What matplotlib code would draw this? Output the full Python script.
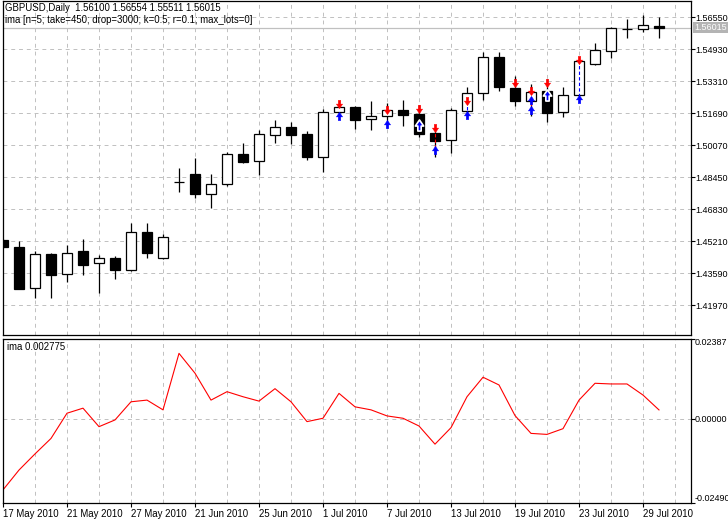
import numpy as np
import matplotlib
matplotlib.use("Agg")
import matplotlib.pyplot as plt
from matplotlib.path import Path

plt.rcParams['font.family'] = ['Liberation Sans', 'DejaVu Sans']
plt.rcParams['font.size'] = 7

# GBPUSD daily bars
opens = [1.45262, 1.44892, 1.42816, 1.44538, 1.43525, 1.44705, 1.44082, 1.44335, 1.43758, 1.45685,
         1.44335, 1.48220, 1.48603, 1.47606, 1.48081, 1.49615, 1.49246, 1.50562, 1.50967, 1.50628,
         1.49438, 1.51726, 1.52010, 1.51372, 1.51539, 1.51843, 1.51640, 1.50663, 1.50309, 1.51807,
         1.52688, 1.54511, 1.52941, 1.52314, 1.52805, 1.51716, 1.52577, 1.54156, 1.54844, 1.55950,
         1.55928, 1.56100]
highs = [1.45312, 1.45211, 1.44705, 1.44603, 1.45008, 1.45312, 1.44502, 1.44451, 1.46137, 1.46137,
         1.45548, 1.48907, 1.49398, 1.48603, 1.49731, 1.50172, 1.50830, 1.51337, 1.51235, 1.50780,
         1.51893, 1.52146, 1.52045, 1.52298, 1.52197, 1.52349, 1.52096, 1.50795, 1.51929, 1.53022,
         1.54764, 1.54779, 1.53564, 1.53159, 1.53397, 1.53007, 1.54425, 1.55249, 1.56060, 1.56450,
         1.56652, 1.56554]
lows = [1.44857, 1.42756, 1.42340, 1.42340, 1.43150, 1.43505, 1.42594, 1.43302, 1.43707, 1.44366,
        1.44300, 1.47707, 1.47403, 1.46897, 1.48010, 1.49175, 1.48567, 1.50172, 1.50121, 1.49336,
        1.48719, 1.51640, 1.50881, 1.50845, 1.50916, 1.51048, 1.50491, 1.49479, 1.49651, 1.51504,
        1.52349, 1.52820, 1.52060, 1.51539, 1.51250, 1.51504, 1.52526, 1.54120, 1.54459, 1.55503,
        1.55806, 1.55511]
closes = [1.44907, 1.42796, 1.44538, 1.43505, 1.44588, 1.44011, 1.44335, 1.43758, 1.45685, 1.44588,
          1.45432, 1.48205, 1.47590, 1.48081, 1.49615, 1.49225, 1.50628, 1.50967, 1.50593, 1.49438,
          1.51726, 1.51979, 1.51337, 1.51539, 1.51843, 1.51590, 1.50643, 1.50289, 1.51828, 1.52688,
          1.54511, 1.53022, 1.52314, 1.52770, 1.51706, 1.52587, 1.54324, 1.54880, 1.55979, 1.55930,
          1.56146, 1.56015]

# ima indicator values
ima = [-0.0210, -0.0151, -0.0103, -0.0057, 0.0018, 0.0033, -0.0022, -0.0002, 0.0052, 0.0057,
       0.0028, 0.0196, 0.0137, 0.0057, 0.0082, 0.0067, 0.0054, 0.0091, 0.0052, -0.0007,
       0.0003, 0.0077, 0.0037, 0.0028, 0.0010, 0.0003, -0.0020, -0.0074, -0.0025, 0.0067,
       0.0125, 0.0102, 0.0011, -0.0042, -0.0045, -0.0028, 0.0057, 0.0107, 0.0105, 0.0105,
       0.0072, 0.002775]

# trade markers (bar index, price)
sell_bars = [21, 24, 26, 27, 29, 32, 33, 34, 36]
sell_prices = [1.52146, 1.51843, 1.51894, 1.50932, 1.52273, 1.53185, 1.52780, 1.53185, 1.54349]
buy_bars = [21, 24, 27, 29, 33, 33, 36]
buy_prices = [1.51539, 1.51134, 1.49792, 1.51590, 1.52324, 1.51843, 1.52400]
close_bars = [26, 34]
close_prices = [1.51083, 1.52602]
# dashed trade lines: bar, price from, price to, colour
trade_lines = [(24, 1.51843, 1.51590, 'red'), (26, 1.51894, 1.51640, 'red'),
               (27, 1.50932, 1.49792, 'red'), (29, 1.52273, 1.51590, 'blue'),
               (33, 1.52780, 1.51843, 'red'), (36, 1.54349, 1.52400, 'blue')]

date_ticks = [0, 4, 8, 12, 16, 20, 24, 28, 32, 36, 40]
date_labels = ['17 May 2010', '21 May 2010', '27 May 2010', '21 Jun 2010', '25 Jun 2010',
               '1 Jul 2010', '7 Jul 2010', '13 Jul 2010', '19 Jul 2010', '23 Jul 2010',
               '29 Jul 2010']
price_ticks = [1.56550, 1.54930, 1.53310, 1.51690, 1.50070, 1.48450, 1.46830, 1.45210,
               1.43590, 1.41970]
ima_ticks = [0.02387, 0.0, -0.0249]
ima_tick_labels = ['0.02387', '0.00000', '-0.02490']

W, H = 728, 519
fig = plt.figure(figsize=(W / 100, H / 100), dpi=100)
fig.patch.set_facecolor('white')


def px_axes(x0, y0, x1, y1):
    return fig.add_axes([x0 / W, 1 - y1 / H, (x1 - x0) / W, (y1 - y0) / H])


ax1 = px_axes(3, 1, 691, 335)
ax2 = px_axes(3, 339, 691, 503)

grid_kw = dict(color='#c0c0c0', linestyle=(0, (4, 4)), linewidth=0.7)
x = np.arange(len(opens))
ylab = 6.5

for ax in (ax1, ax2):
    ax.set_xlim(0, 43)
    for s in ax.spines.values():
        s.set_linewidth(0.9)
        s.set_color('black')
    ax.yaxis.tick_right()
    ax.tick_params(axis='y', direction='out', length=2.6, width=0.8, pad=0.8, labelsize=ylab)
    ax.set_xticks(np.arange(0, 44, 2), minor=True)
    ax.grid(True, which='both', axis='x', **grid_kw)
    ax.set_axisbelow(True)

# --- main price panel ---
ax1.set_ylim(1.40452, 1.57360)
ax1.set_yticks(price_ticks, ['%.5f' % p for p in price_ticks])
ax1.grid(True, which='major', axis='y', **grid_kw)
ax1.set_xticks([])
ax1.tick_params(axis='x', which='both', length=0, labelbottom=False)

# bid line
ax1.axhline(closes[-1], color='#c0c0c0', lw=0.9, zorder=1)

o = np.array(opens)
c = np.array(closes)
ax1.vlines(x, lows, highs, color='black', lw=0.9, zorder=2)
bull = c >= o
body_lo = np.minimum(o, c)
body_h = np.maximum(np.abs(c - o), 0.00008)
ax1.bar(x, body_h, bottom=body_lo, width=0.68, color=np.where(bull, 'white', 'black'),
        edgecolor='black', linewidth=0.9, zorder=3)

for b, p0, p1, col in trade_lines:
    ax1.plot([b, b], [p0, p1], color=col, lw=0.8, ls=(0, (3, 2)), zorder=4)

down_arrow = Path([(-0.3, 1), (0.3, 1), (0.3, 0.1), (0.75, 0.1), (0, -1), (-0.75, 0.1),
                   (-0.3, 0.1), (-0.3, 1)], closed=True)
up_arrow = Path([(-0.3, -1), (0.3, -1), (0.3, -0.1), (0.75, -0.1), (0, 1), (-0.75, -0.1),
                 (-0.3, -0.1), (-0.3, -1)], closed=True)
ax1.plot(sell_bars, sell_prices, ls='none', marker=down_arrow, ms=6, color='red',
         mec='red', mew=0.3, zorder=5)
ax1.plot(buy_bars, buy_prices, ls='none', marker=up_arrow, ms=6, color='blue',
         mec='blue', mew=0.3, zorder=5)
ax1.plot(close_bars, close_prices, ls='none', marker=up_arrow, ms=8, color='blue',
         mec='white', mew=1.2, zorder=5)

ax1.annotate('%.5f' % closes[-1], xy=(1, closes[-1]), xycoords=ax1.get_yaxis_transform(),
             xytext=(2.2, 0), textcoords='offset points', va='center', ha='left',
             color='white', fontsize=ylab,
             bbox=dict(boxstyle='square,pad=0.15', fc='#b4b4b4', ec='none'))

fig.text(5 / W, 1 - 8 / H, 'GBPUSD,Daily  1.56100 1.56554 1.55511 1.56015',
         va='center', ha='left', fontsize=6.9)
fig.text(5 / W, 1 - 20 / H, 'ima [n=5; take=450; drop=3000; k=0.5; r=0.1; max_lots=0]',
         va='center', ha='left', fontsize=6.9)

# --- indicator panel ---
ax2.set_ylim(-0.0249, 0.02387)
ax2.set_yticks(ima_ticks, ['', '', ''])
ax2.axhline(0, **grid_kw, zorder=0)
ax2.plot(x, ima, color='red', lw=0.8)
tr = ax2.get_yaxis_transform()
ax2.annotate(ima_tick_labels[0], xy=(1, ima_ticks[0]), xycoords=tr, xytext=(2.6, 0.5),
             textcoords='offset points', va='top', ha='left', fontsize=ylab)
ax2.annotate(ima_tick_labels[1], xy=(1, ima_ticks[1]), xycoords=tr, xytext=(2.6, 0),
             textcoords='offset points', va='center', ha='left', fontsize=ylab)
ax2.annotate(ima_tick_labels[2], xy=(1, ima_ticks[2]), xycoords=tr, xytext=(2.6, 0),
             textcoords='offset points', va='bottom', ha='left', fontsize=ylab)
ax2.text(4 / 688, 1 - 8 / 164, 'ima 0.002775', transform=ax2.transAxes,
         va='center', ha='left', fontsize=6.9)

ax2.set_xticks(date_ticks, date_labels)
ax2.tick_params(axis='x', which='major', direction='out', length=3, width=0.8, pad=1.5,
                labelsize=6.9)
ax2.tick_params(axis='x', which='minor', length=0)
for lbl in ax2.get_xticklabels():
    lbl.set_horizontalalignment('left')

fig.savefig('out.png', dpi=100, facecolor='white')
